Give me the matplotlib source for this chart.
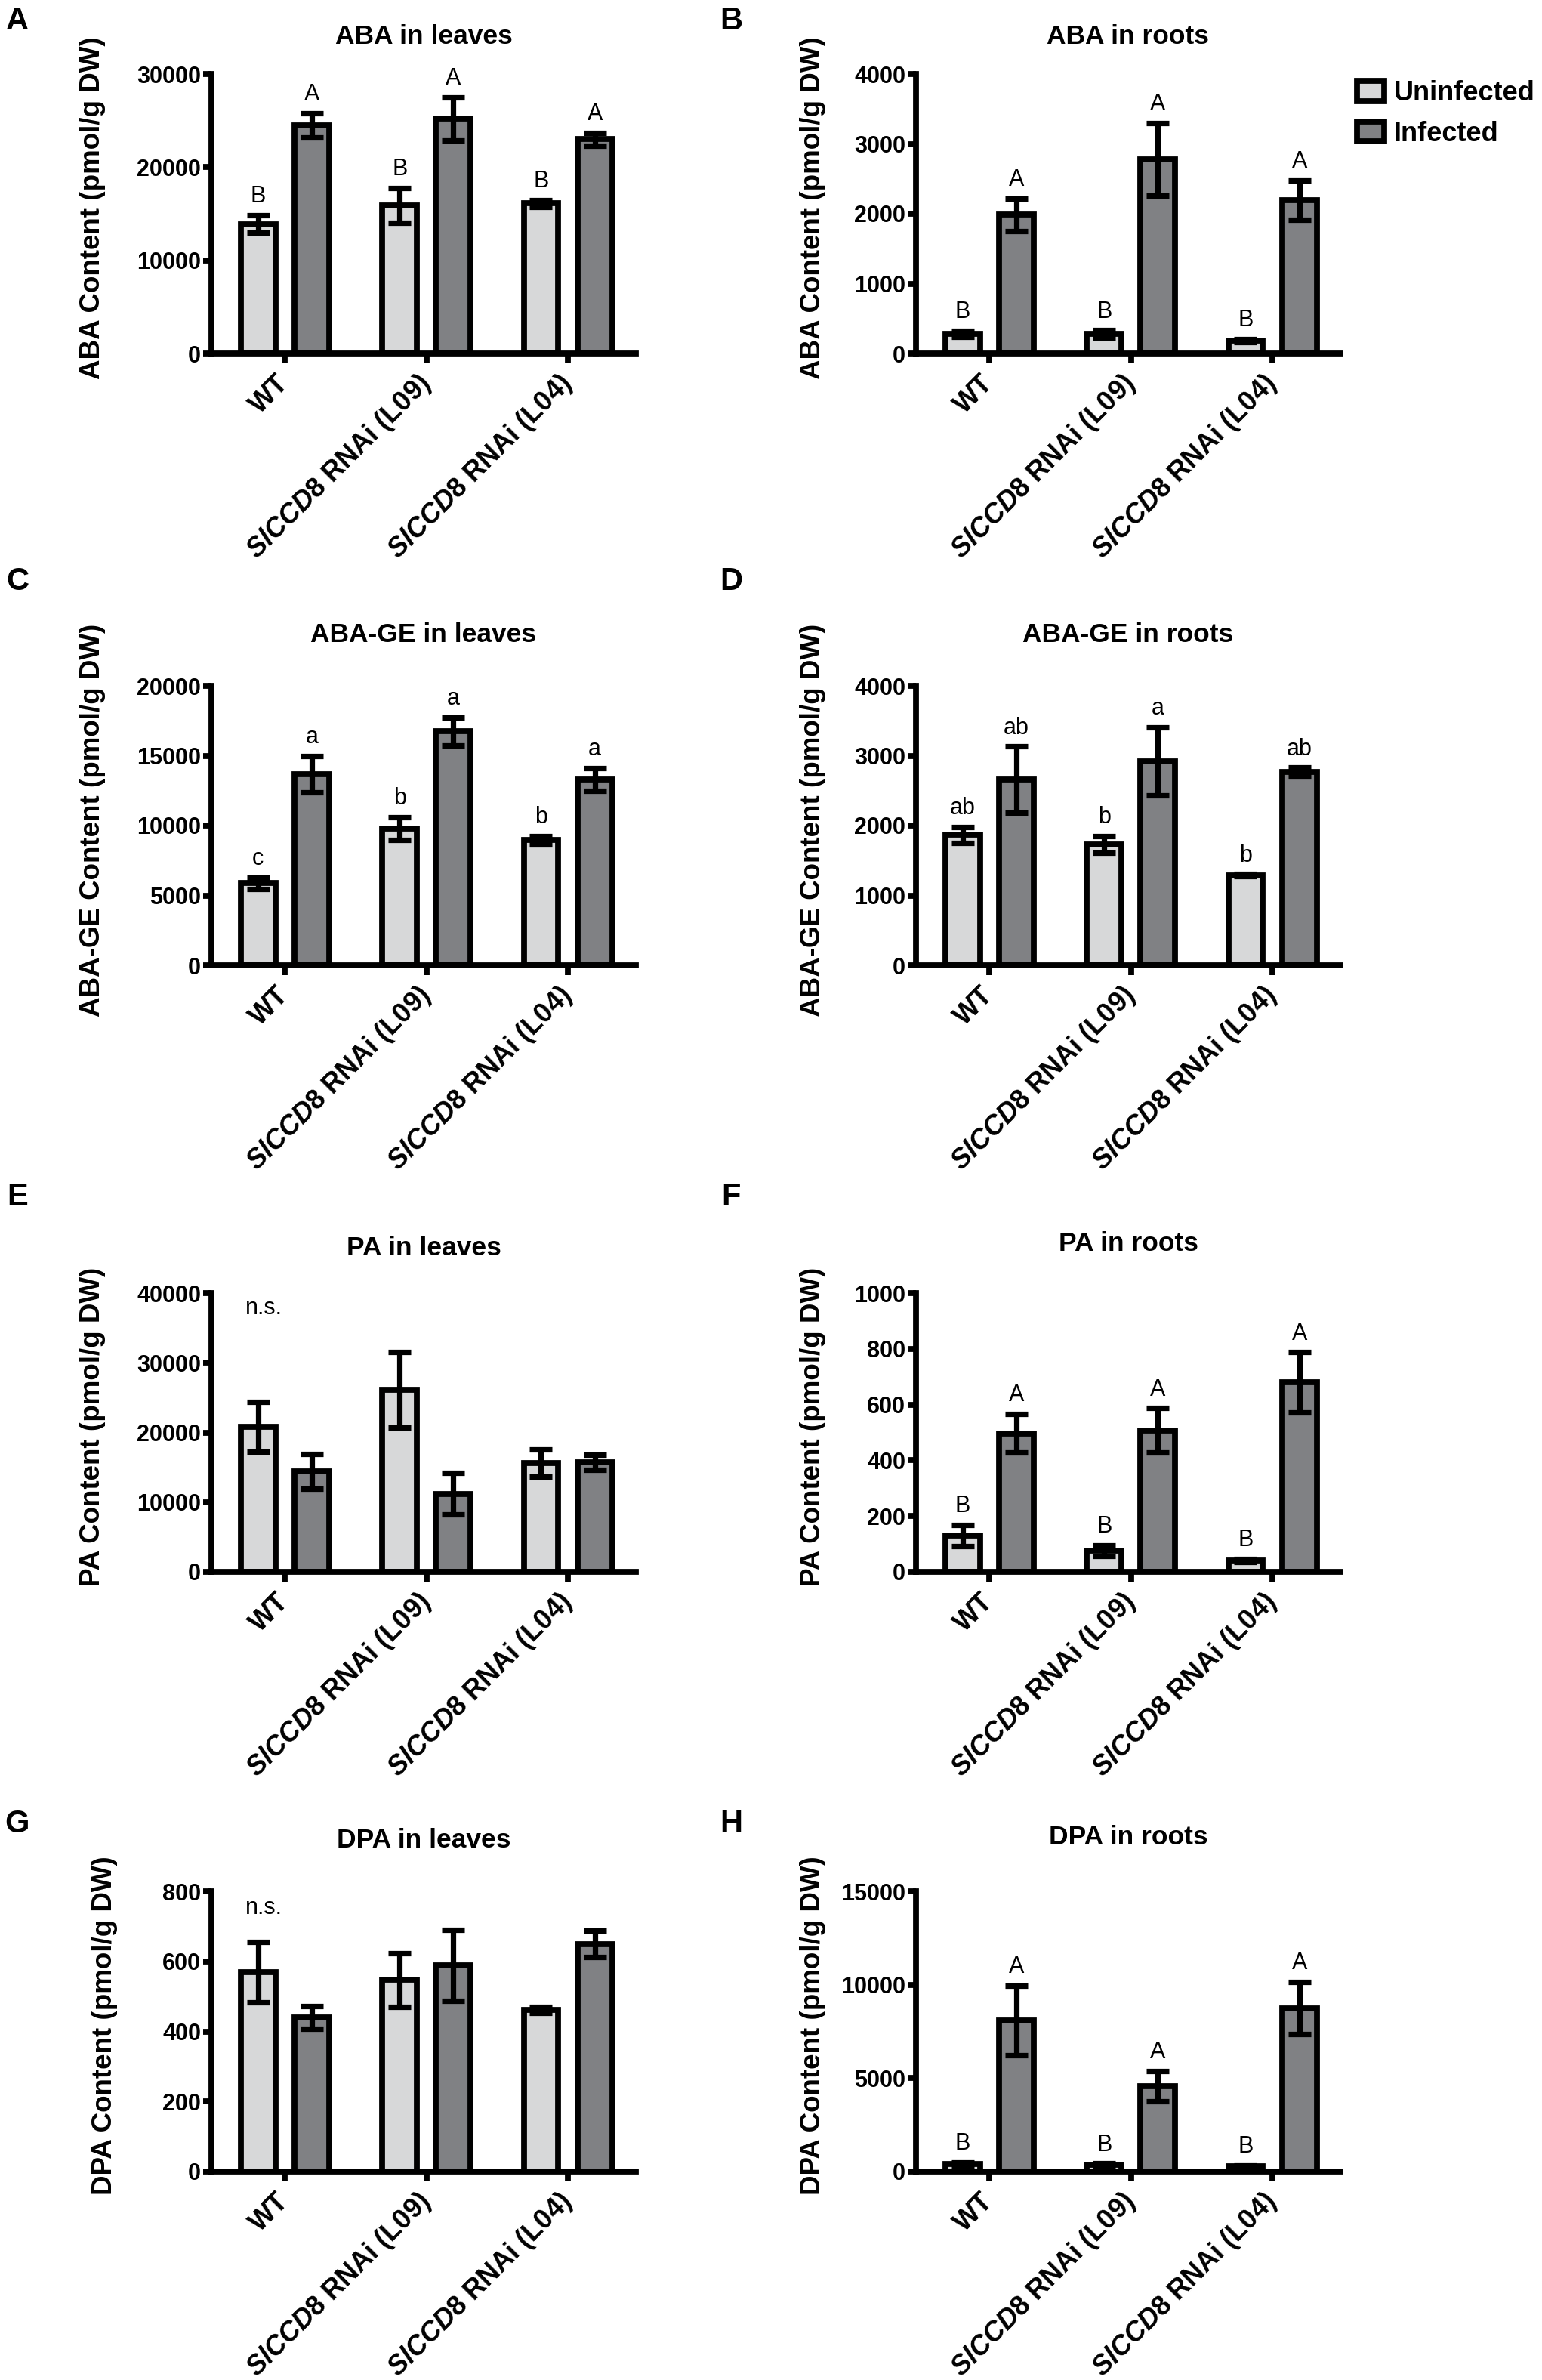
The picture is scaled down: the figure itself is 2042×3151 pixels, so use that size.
import matplotlib
matplotlib.use("Agg")
import matplotlib.pyplot as plt
import numpy as np

plt.rcParams['font.family'] = ['Liberation Sans', 'DejaVu Sans']
plt.rcParams['font.weight'] = 'bold'
plt.rcParams['mathtext.fontset'] = 'custom'
plt.rcParams['mathtext.it'] = 'Liberation Sans:italic:bold'
plt.rcParams['mathtext.rm'] = 'Liberation Sans:bold'
plt.rcParams['mathtext.bf'] = 'Liberation Sans:bold'

# ---------------- data ----------------
groups = ['WT', r'$\mathit{SlCCD8}$ RNAi (L09)', r'$\mathit{SlCCD8}$ RNAi (L04)']
series = ['Uninfected', 'Infected']

titles = ['ABA in leaves', 'ABA in roots', 'ABA-GE in leaves', 'ABA-GE in roots',
          'PA in leaves', 'PA in roots', 'DPA in leaves', 'DPA in roots']
ylabels = ['ABA Content (pmol/g DW)', 'ABA Content (pmol/g DW)',
           'ABA-GE Content (pmol/g DW)', 'ABA-GE Content (pmol/g DW)',
           'PA Content (pmol/g DW)', 'PA Content (pmol/g DW)',
           'DPA Content (pmol/g DW)', 'DPA Content (pmol/g DW)']
panel_letters = ['A', 'B', 'C', 'D', 'E', 'F', 'G', 'H']

aba_leaves_unin = [13900, 15900, 16100]
aba_leaves_unin_err = [950, 1850, 350]
aba_leaves_inf = [24500, 25200, 23000]
aba_leaves_inf_err = [1300, 2300, 700]

aba_roots_unin = [280, 280, 185]
aba_roots_unin_err = [45, 50, 25]
aba_roots_inf = [1985, 2775, 2195]
aba_roots_inf_err = [230, 520, 280]

abage_leaves_unin = [5880, 9800, 8970]
abage_leaves_unin_err = [400, 800, 300]
abage_leaves_inf = [13700, 16750, 13300]
abage_leaves_inf_err = [1300, 1000, 800]

abage_roots_unin = [1865, 1730, 1290]
abage_roots_unin_err = [115, 120, 15]
abage_roots_inf = [2655, 2920, 2765]
abage_roots_inf_err = [475, 490, 65]

pa_leaves_unin = [20800, 26100, 15600]
pa_leaves_unin_err = [3550, 5400, 1950]
pa_leaves_inf = [14400, 11200, 15700]
pa_leaves_inf_err = [2500, 2950, 1100]

pa_roots_unin = [130, 76, 41]
pa_roots_unin_err = [38, 19, 5]
pa_roots_inf = [497, 507, 680]
pa_roots_inf_err = [69, 80, 108]

dpa_leaves_unin = [570, 547, 461]
dpa_leaves_unin_err = [86, 76, 9]
dpa_leaves_inf = [440, 588, 650]
dpa_leaves_inf_err = [32, 101, 37]

dpa_roots_unin = [406, 366, 285]
dpa_roots_unin_err = [80, 60, 50]
dpa_roots_inf = [8090, 4570, 8740]
dpa_roots_inf_err = [1870, 800, 1400]

letters_unin = [['B', 'B', 'B'], ['B', 'B', 'B'], ['c', 'b', 'b'], ['ab', 'b', 'b'],
                None, ['B', 'B', 'B'], None, ['B', 'B', 'B']]
letters_inf = [['A', 'A', 'A'], ['A', 'A', 'A'], ['a', 'a', 'a'], ['ab', 'a', 'ab'],
               None, ['A', 'A', 'A'], None, ['A', 'A', 'A']]
ns_panels = {4: 37800, 6: 752}

yticks = [[0, 10000, 20000, 30000], [0, 1000, 2000, 3000, 4000],
          [0, 5000, 10000, 15000, 20000], [0, 1000, 2000, 3000, 4000],
          [0, 10000, 20000, 30000, 40000], [0, 200, 400, 600, 800, 1000],
          [0, 200, 400, 600, 800], [0, 5000, 10000, 15000]]

unin = [aba_leaves_unin, aba_roots_unin, abage_leaves_unin, abage_roots_unin,
        pa_leaves_unin, pa_roots_unin, dpa_leaves_unin, dpa_roots_unin]
unin_err = [aba_leaves_unin_err, aba_roots_unin_err, abage_leaves_unin_err, abage_roots_unin_err,
            pa_leaves_unin_err, pa_roots_unin_err, dpa_leaves_unin_err, dpa_roots_unin_err]
inf = [aba_leaves_inf, aba_roots_inf, abage_leaves_inf, abage_roots_inf,
       pa_leaves_inf, pa_roots_inf, dpa_leaves_inf, dpa_roots_inf]
inf_err = [aba_leaves_inf_err, aba_roots_inf_err, abage_leaves_inf_err, abage_roots_inf_err,
           pa_leaves_inf_err, pa_roots_inf_err, dpa_leaves_inf_err, dpa_roots_inf_err]

# ---------------- style ----------------
W, H = 2042, 3151
DPI = 100
fig = plt.figure(figsize=(W / DPI, H / DPI), dpi=DPI)

c_unin = '#d7d8d9'
c_inf = '#808184'
LW = 5.6
bar_w = 0.245
off = 0.19

left_px = [280, 1213]
width_px = 562
rows_px = [(98, 468), (908, 1278), (1712, 2081), (2504, 2875)]
title_y_px = [(48, 48), (840, 840), (1652, 1647), (2436, 2433)]
letter_y_px = [28, 770, 1585, 2415]
letter_x_px = [23, 968]
ylab_x = [[-0.249, -0.212], [-0.249, -0.212], [-0.249, -0.212], [-0.221, -0.212]]

x = np.arange(len(groups))

for i in range(8):
    r, c = divmod(i, 2)
    top, bot = rows_px[r]
    ax = fig.add_axes([left_px[c] / W, 1 - bot / H, width_px / W, (bot - top) / H])
    b1 = ax.bar(x - off, unin[i], bar_w, color=c_unin, edgecolor='black', linewidth=LW, zorder=2,
                label=series[0])
    b2 = ax.bar(x + off, inf[i], bar_w, color=c_inf, edgecolor='black', linewidth=LW, zorder=2,
                label=series[1])
    for xs, vals, errs in [(x - off, unin[i], unin_err[i]), (x + off, inf[i], inf_err[i])]:
        ax.errorbar(xs, vals, yerr=errs, fmt='none', ecolor='black', elinewidth=5.2,
                    capsize=11, capthick=5.2, zorder=3)
    for lets, xs, vals, errs in [(letters_unin[i], x - off, unin[i], unin_err[i]),
                                 (letters_inf[i], x + off, inf[i], inf_err[i])]:
        if lets is None:
            continue
        for lt, xx, v, e in zip(lets, xs, vals, errs):
            ax.annotate(lt, (xx, v + e), xytext=(0, 7), textcoords='offset points',
                        ha='center', va='bottom', fontsize=22, fontweight='normal')
    if i in ns_panels:
        ax.text(-0.15, ns_panels[i], 'n.s.', ha='center', va='center', fontsize=22,
                fontweight='normal')

    ax.set_xlim(-0.52, 2.48)
    ax.set_ylim(0, yticks[i][-1])
    ax.set_yticks(yticks[i])
    ax.set_yticklabels([str(t) for t in yticks[i]])
    ax.set_xticks(x)
    ax.set_xticklabels(groups, rotation=45, ha='right', va='center', rotation_mode='anchor',
                       fontsize=26, fontweight='bold')
    ax.tick_params(axis='y', labelsize=22, width=LW, length=8, pad=2)
    ax.tick_params(axis='x', width=LW, length=9, pad=16)
    for sp in ['top', 'right']:
        ax.spines[sp].set_visible(False)
    for sp in ['left', 'bottom']:
        ax.spines[sp].set_linewidth(LW)
    ax.set_ylabel(ylabels[i], fontsize=26.5, fontweight='bold')
    ax.yaxis.set_label_coords(ylab_x[r][c], 0.52)

    fig.text((left_px[c] + width_px / 2) / W, 1 - title_y_px[r][c] / H, titles[i],
             ha='center', va='center', fontsize=25.5, fontweight='bold')
    fig.text(letter_x_px[c] / W, 1 - letter_y_px[r] / H, panel_letters[i],
             ha='center', va='center', fontsize=30, fontweight='bold')

    if i == 1:
        ax.legend(handles=[b1, b2], labels=series, loc='upper left',
                  bbox_to_anchor=(1797 / W, 1 - 106 / H), bbox_transform=fig.transFigure,
                  frameon=False, handlelength=1.0, handleheight=0.75,
                  handletextpad=0.35, labelspacing=0.52, borderpad=0, borderaxespad=0,
                  prop={'weight': 'bold', 'size': 26})

fig.savefig('out.png', dpi=DPI)
